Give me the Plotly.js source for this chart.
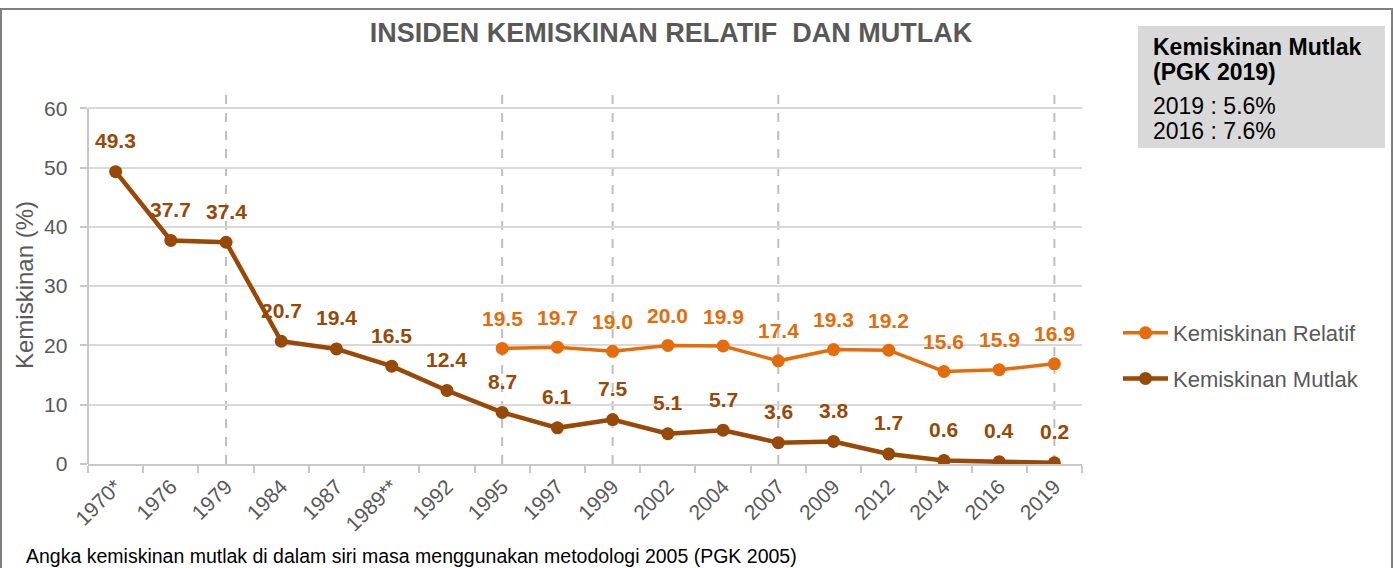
<!DOCTYPE html>
<html>
<head>
<meta charset="utf-8">
<script src="https://cdn.plot.ly/plotly-3.0.1.min.js"></script>
<style>html,body{margin:0;padding:0;background:#fff;}#chart{width:1395px;height:568px;}</style>
</head>
<body>
<div id="chart"></div>
<script>
const years = ["1970*","1976","1979","1984","1987","1989**","1992","1995","1997","1999","2002","2004","2007","2009","2012","2014","2016","2019"];
const mutlak = [49.3,37.7,37.4,20.7,19.4,16.5,12.4,8.7,6.1,7.5,5.1,5.7,3.6,3.8,1.7,0.6,0.4,0.2];
const relatif = [null,null,null,null,null,null,null,19.5,19.7,19.0,20.0,19.9,17.4,19.3,19.2,15.6,15.9,16.9];
const dashedYears = ["1979","1995","1999","2007","2019"];
const boxLines = ["Kemiskinan Mutlak","(PGK 2019)","2019 : 5.6%","2016 : 7.6%"];

const W = 1395, H = 568;
const L = 88, R = 1082, T = 94, B = 464;
const px = v => (v - L) / (R - L);
const py = v => (B - v) / (B - T);

const cRel = "#E46C0A", cMut = "#984807";
const FONT = "Liberation Sans, Arial, sans-serif";

const traces = [
  {x: years, y: relatif, name: "Kemiskinan Relatif", type: "scatter", mode: "lines+markers",
   line: {color: cRel, width: 3.5}, marker: {color: cRel, size: 13}, legendgroup: "a", connectgaps: false},
  {x: years, y: mutlak, name: "Kemiskinan Mutlak", type: "scatter", mode: "lines+markers",
   line: {color: cMut, width: 4.5}, marker: {color: cMut, size: 13}, legendgroup: "b"}
];

const annotations = [];
years.forEach((yr, i) => {
  if (mutlak[i] !== null) annotations.push({x: i, y: mutlak[i], xref: "x", yref: "y", text: mutlak[i].toFixed(1),
    showarrow: false, yshift: 31, yanchor: "middle", font: {family: FONT, size: 21, color: cMut, weight: "bold"}});
  if (relatif[i] !== null) annotations.push({x: i, y: relatif[i], xref: "x", yref: "y", text: relatif[i].toFixed(1),
    showarrow: false, yshift: 30, yanchor: "middle", font: {family: FONT, size: 21, color: cRel, weight: "bold"}});
});
const boxY = [47, 72, 106, 131];
boxLines.forEach((t, i) => {
  annotations.push({xref: "paper", yref: "paper", x: px(1151), y: py(boxY[i]), xanchor: "left", yanchor: "middle",
    text: t, showarrow: false, font: {family: FONT, size: 23, color: "#000", weight: i < 2 ? "bold" : "normal"}});
});
annotations.push({xref: "paper", yref: "paper", x: px(24), y: py(556), xanchor: "left", yanchor: "middle",
  text: "Angka kemiskinan mutlak di dalam siri masa menggunakan metodologi 2005 (PGK 2005)", showarrow: false,
  font: {family: FONT, size: 19.5, color: "#000"}});
annotations.push({xref: "paper", yref: "paper", x: px(24), y: py(285), xanchor: "center", yanchor: "middle",
  textangle: -90, text: "Kemiskinan (%)", showarrow: false, font: {family: FONT, size: 24, color: "#595959"}});

const shapes = [
  {type: "rect", xref: "paper", yref: "paper", x0: px(1), x1: px(1392), y0: py(9), y1: py(700),
   line: {color: "#7f7f7f", width: 2}, fillcolor: "rgba(0,0,0,0)", layer: "below"},
  {type: "rect", xref: "paper", yref: "paper", x0: px(1138), x1: px(1385), y0: py(26), y1: py(148),
   line: {width: 0}, fillcolor: "#d9d9d9", layer: "below"},
  {type: "line", xref: "paper", yref: "y", x0: 0, x1: 0, y0: 0, y1: 60, line: {color: "#c8c8c8", width: 2}}
];
dashedYears.forEach(yr => {
  const k = years.indexOf(yr);
  shapes.push({type: "line", xref: "x", yref: "paper", x0: k, x1: k, y0: 0, y1: 1,
    line: {color: "#bfbfbf", width: 2, dash: "dash"}, layer: "below"});
});

const layout = {
  width: W, height: H,
  margin: {l: L, r: W - R, t: T, b: H - B, pad: 0},
  paper_bgcolor: "#fff", plot_bgcolor: "rgba(0,0,0,0)",
  font: {family: FONT, color: "#595959"},
  title: {text: "INSIDEN KEMISKINAN RELATIF  DAN MUTLAK", xref: "container", yref: "container",
    x: 671 / W, y: 1 - 33 / H, xanchor: "center", yanchor: "middle",
    font: {family: FONT, size: 27, color: "#595959", weight: "bold"}},
  xaxis: {type: "category", range: [-0.5, 17.5], tickson: "boundaries", ticks: "outside", ticklen: 7,
    tickcolor: "#c8c8c8", tickwidth: 2, showline: true, linecolor: "#c8c8c8", linewidth: 2,
    showgrid: false, zeroline: false, tickangle: -45, tickfont: {family: FONT, size: 21, color: "#595959"},
    automargin: false},
  yaxis: {range: [0, 62.4], dtick: 10, tick0: 0, showgrid: true, gridcolor: "#d9d9d9", gridwidth: 2,
    zeroline: false, showline: false, ticks: "outside", ticklen: 7, tickcolor: "#c8c8c8", tickwidth: 2,
    ticksuffix: "\u2009\u2009",
    tickfont: {family: FONT, size: 21, color: "#595959"}, automargin: false},
  legend: {x: px(1118), y: py(312), xanchor: "left", yanchor: "top", traceorder: "grouped", tracegroupgap: 14,
    itemwidth: 45, font: {family: FONT, size: 22, color: "#595959"}, bgcolor: "rgba(0,0,0,0)"},
  showlegend: true,
  annotations: annotations,
  shapes: shapes
};

Plotly.newPlot("chart", traces, layout, {displayModeBar: false, responsive: false});
</script>
</body>
</html>
